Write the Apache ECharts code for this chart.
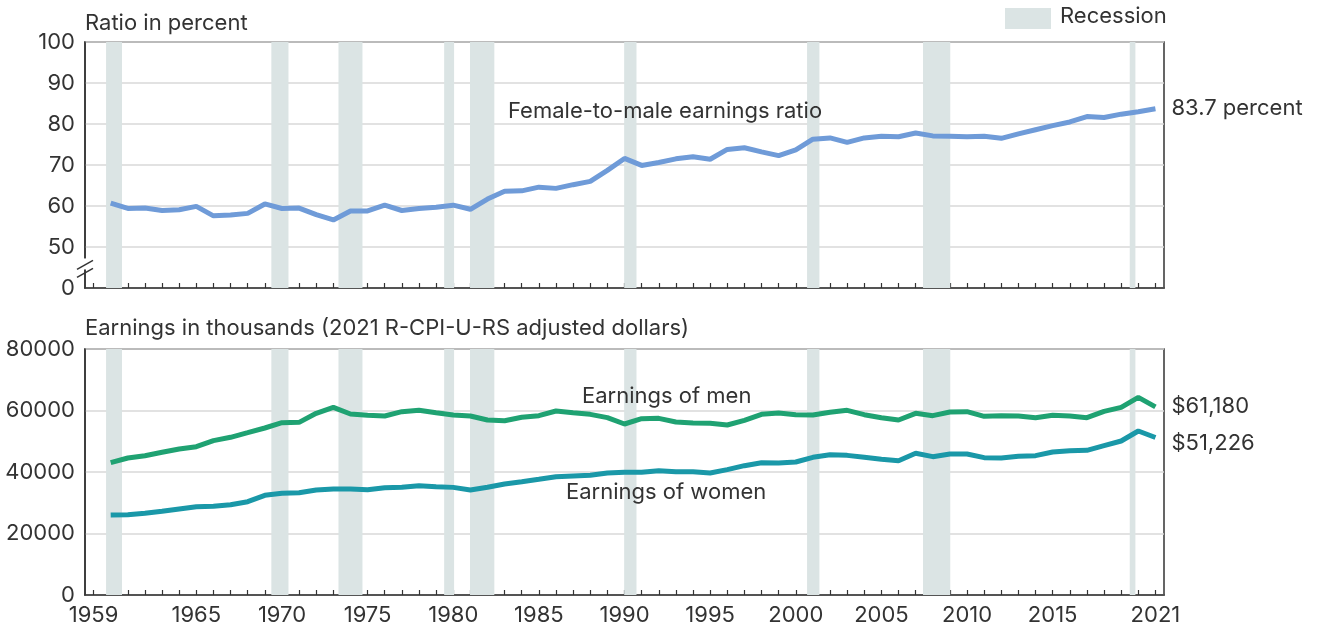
<!DOCTYPE html>
<html>
<head>
<meta charset="utf-8">
<script src="https://cdn.jsdelivr.net/npm/echarts@6/dist/echarts.min.js"></script>
<style>
html,body{margin:0;padding:0;background:#fff;}
#chart{width:1317px;height:629px;}
</style>
</head>
<body>
<div id="chart"></div>
<script>
// ---- Data ----
const years = [1960,1961,1962,1963,1964,1965,1966,1967,1968,1969,1970,1971,1972,1973,1974,1975,1976,1977,1978,1979,1980,1981,1982,1983,1984,1985,1986,1987,1988,1989,1990,1991,1992,1993,1994,1995,1996,1997,1998,1999,2000,2001,2002,2003,2004,2005,2006,2007,2008,2009,2010,2011,2012,2013,2014,2015,2016,2017,2018,2019,2020,2021];
const ratio = [60.7,59.4,59.5,58.9,59.1,59.9,57.6,57.8,58.2,60.5,59.4,59.5,57.9,56.6,58.8,58.8,60.2,58.9,59.4,59.7,60.2,59.2,61.7,63.6,63.7,64.6,64.3,65.2,66.0,68.7,71.6,69.9,70.6,71.5,72.0,71.4,73.8,74.2,73.2,72.3,73.7,76.3,76.6,75.5,76.6,77.0,76.9,77.8,77.1,77.0,76.9,77.0,76.5,77.6,78.6,79.6,80.5,81.8,81.6,82.4,83.0,83.7];
const menEarnings = [43030,44550,45300,46400,47480,48240,50190,51280,52790,54310,56040,56150,59080,61030,58860,58430,58210,59620,60050,59290,58540,58210,56910,56690,57780,58320,59840,59290,58750,57670,55610,57340,57450,56260,55930,55820,55280,56800,58750,59180,58640,58540,59400,60050,58640,57670,56910,59080,58320,59510,59620,58100,58320,58210,57670,58430,58210,57670,59730,61030,64280,61180];
const womenEarnings = [26020,26130,26560,27210,27970,28720,28830,29370,30350,32410,33060,33280,34150,34470,34470,34260,34900,35020,35560,35240,35000,34150,35020,36100,36850,37620,38480,38700,38910,39670,39890,39890,40430,40100,40100,39670,40760,42060,43030,42920,43250,44770,45630,45410,44770,44120,43680,46080,44990,45850,45850,44660,44550,45090,45310,46500,46930,47040,48560,50080,53330,51226];
const recessionStart = [1959.73,1969.38,1973.3,1979.47,1980.98,1989.98,2000.66,2007.43,2019.5];
const recessionEnd   = [1960.66,1970.38,1974.7,1980.05,1982.4,1990.7,2001.38,2009.02,2019.83];
const tickYears = []; for (let y = 1959; y <= 2021; y++) tickYears.push(y);
const labelYears = [1959,1965,1970,1975,1980,1985,1990,1995,2000,2005,2010,2015,2021];
const ratioTicks = [40,50,60,70,80,90,100];
const earningsTicks = [0,20000,40000,60000,80000];

// ---- Build ----
const FONT = 'Inter';
const FS = 22;
const TXT = '#333333';
const pair = (arr) => years.map((y, i) => [y, arr[i]]);
const bands = recessionStart.map((s, i) => [{xAxis: s}, {xAxis: recessionEnd[i]}]);

const chart = echarts.init(document.getElementById('chart'), null, {renderer: 'canvas'});

function xAxisCfg(gridIndex, showLabels) {
  return {
    type: 'value', gridIndex, min: 1958.5, max: 2021.5,
    axisLine: {show: true, lineStyle: {color: '#333', width: 1.5}},
    axisTick: {show: true, inside: true, length: 5, customValues: tickYears, lineStyle: {color: '#333', width: 1.2}},
    axisLabel: {show: showLabels, customValues: labelYears, formatter: v => String(v), color: TXT, fontFamily: FONT, fontSize: FS, margin: 9},
    splitLine: {show: false}
  };
}

const txt = (s, left, top) => ({type: 'text', left, top, z: 100, style: {text: s, fill: TXT, font: FS + 'px ' + FONT}});

const option = {
  animation: false,
  textStyle: {fontFamily: FONT},
  grid: [
    {left: 85, right: 153, top: 42, height: 246, show: true, borderColor: '#333', borderWidth: 1.5, backgroundColor: 'transparent'},
    {left: 85, right: 153, top: 349, height: 246, show: true, borderColor: '#333', borderWidth: 1.5, backgroundColor: 'transparent'}
  ],
  xAxis: [xAxisCfg(0, false), xAxisCfg(1, true)],
  yAxis: [
    {
      type: 'value', gridIndex: 0, min: ratioTicks[0], max: ratioTicks[ratioTicks.length - 1], interval: 10,
      axisLine: {show: true, lineStyle: {color: '#333', width: 1.5}},
      axisTick: {show: false},
      axisLabel: {color: TXT, fontFamily: FONT, fontSize: FS, margin: 10, formatter: v => v === 40 ? '0' : String(v)},
      splitLine: {show: true, lineStyle: {color: '#d9d9d9', width: 1.5}}
    },
    {
      type: 'value', gridIndex: 1, min: earningsTicks[0], max: earningsTicks[earningsTicks.length - 1], interval: 20000,
      axisLine: {show: true, lineStyle: {color: '#333', width: 1.5}},
      axisTick: {show: false},
      axisLabel: {color: TXT, fontFamily: FONT, fontSize: FS, margin: 10, formatter: v => String(v)},
      splitLine: {show: true, lineStyle: {color: '#d9d9d9', width: 1.5}}
    }
  ],
  series: [
    {
      type: 'line', xAxisIndex: 0, yAxisIndex: 0, data: [], silent: true,
      markArea: {silent: true, itemStyle: {color: '#dbe4e4'}, data: bands}
    },
    {
      type: 'line', xAxisIndex: 1, yAxisIndex: 1, data: [], silent: true,
      markArea: {silent: true, itemStyle: {color: '#dbe4e4'}, data: bands}
    },
    {
      name: 'Female-to-male earnings ratio', type: 'line', xAxisIndex: 0, yAxisIndex: 0,
      data: pair(ratio), showSymbol: false, lineStyle: {color: '#6f9bd8', width: 5}, itemStyle: {color: '#6f9bd8'},
      endLabel: {show: true, formatter: p => p.value[1].toFixed(1) + ' percent', color: TXT, fontFamily: FONT, fontSize: FS, distance: 16}
    },
    {
      name: 'Earnings of men', type: 'line', xAxisIndex: 1, yAxisIndex: 1,
      data: pair(menEarnings), showSymbol: false, lineStyle: {color: '#1fa272', width: 5}, itemStyle: {color: '#1fa272'},
      endLabel: {show: true, formatter: p => '$' + p.value[1].toLocaleString('en-US'), color: TXT, fontFamily: FONT, fontSize: FS, distance: 16}
    },
    {
      name: 'Earnings of women', type: 'line', xAxisIndex: 1, yAxisIndex: 1,
      data: pair(womenEarnings), showSymbol: false, lineStyle: {color: '#1a98a8', width: 5}, itemStyle: {color: '#1a98a8'},
      endLabel: {show: true, formatter: p => '$' + p.value[1].toLocaleString('en-US'), color: TXT, fontFamily: FONT, fontSize: FS, distance: 16, offset: [0, 6]}
    }
  ],
  graphic: [
    txt('Ratio in percent', 85, 12),
    txt('Earnings in thousands (2021 R-CPI-U-RS adjusted dollars)', 85, 317),
    {type: 'rect', z: 100, shape: {x: 1005, y: 8, width: 46, height: 21}, style: {fill: '#dbe4e4'}},
    txt('Recession', 1060, 5),
    txt('Female-to-male earnings ratio', 508, 100),
    txt('Earnings of men', 582, 385),
    txt('Earnings of women', 566, 481)
  ]
};
chart.setOption(option);

// axis break symbol on top chart's y axis
const yTop = chart.convertToPixel({yAxisIndex: 0}, 45.5);
const xL = chart.convertToPixel({xAxisIndex: 0}, 1958.5);
chart.setOption({graphic: option.graphic.concat([
  {type: 'rect', shape: {x: xL - 3, y: yTop - 7, width: 6, height: 11}, style: {fill: '#fff'}, z: 100},
  {type: 'line', shape: {x1: xL - 8, y1: yTop + 4, x2: xL + 8, y2: yTop - 5}, style: {stroke: '#333', lineWidth: 1.5}, z: 101},
  {type: 'line', shape: {x1: xL - 8, y1: yTop + 12, x2: xL + 8, y2: yTop + 3}, style: {stroke: '#333', lineWidth: 1.5}, z: 101}
])});
</script>
</body>
</html>
